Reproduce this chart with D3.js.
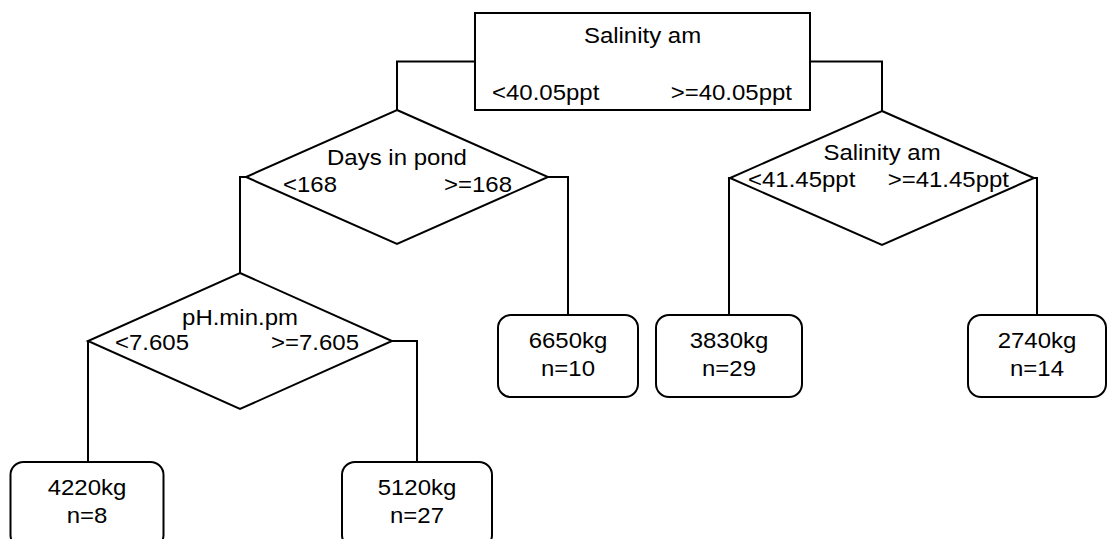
<!DOCTYPE html>
<html>
<head>
<meta charset="utf-8">
<script src="https://cdn.jsdelivr.net/npm/d3@7"></script>
<style>
  html, body { margin: 0; padding: 0; background: #fff; }
  svg text { font-family: "Liberation Sans", Arial, sans-serif; fill: #000; }
</style>
</head>
<body>
<svg id="chart" width="1107" height="539"></svg>
<script>
// ---- data ----
const splitVars   = ["Salinity am", "Days in pond", "Salinity am", "pH.min.pm"];
const splitLeft   = ["<40.05ppt", "<168", "<41.45ppt", "<7.605"];
const splitRight  = [">=40.05ppt", ">=168", ">=41.45ppt", ">=7.605"];
const leafYield   = [4220, 5120, 6650, 3830, 2740];
const leafN       = [8, 27, 10, 29, 14];
const leafUnit    = "kg";

// tree structure (split index -> children: {s: split} or {l: leaf})
const treeSpec = {s: 0, children: [
  {s: 1, children: [
    {s: 3, children: [{l: 0}, {l: 1}]},
    {l: 2}
  ]},
  {s: 2, children: [{l: 3}, {l: 4}]}
]};

// ---- layout (pixels) ----
const FS = 22;
const SX = 1.09; // horizontal text stretch seen in the reference
const splitLayout = [
  {shape: "box", cx: 642.5, cy: 61.5, hw: 167.5, hh: 48.5, labelDy: -19, branchDy: 38, lPad: 17, rPad: 18},
  {shape: "diamond", cx: 397, cy: 177, hw: 151, hh: 67, labelDy: -12, branchDy: 15, lPad: 37, rPad: 36},
  {shape: "diamond", cx: 882, cy: 178, hw: 152, hh: 67, labelDy: -18, branchDy: 9, lPad: 18, rPad: 25},
  {shape: "diamond", cx: 240, cy: 341, hw: 152, hh: 68, labelDy: -16, branchDy: 9, lPad: 27, rPad: 33}
];
const leafLayout = [
  {cx: 87,   top: 462, w: 153, h: 86},
  {cx: 417,  top: 462, w: 150, h: 86},
  {cx: 568,  top: 315, w: 140, h: 82},
  {cx: 729,  top: 315, w: 146, h: 82},
  {cx: 1037, top: 315, w: 138, h: 82}
];
const dropX = {
  "0-0": 397, "0-1": 882,
  "1-0": 240, "1-1": 568,
  "2-0": 729, "2-1": 1037,
  "3-0": 88,  "3-1": 417
};

const svg = d3.select("#chart");
const root = d3.hierarchy(treeSpec);

function topOf(node) {
  const d = node.data;
  if (d.s !== undefined) {
    const L = splitLayout[d.s];
    return L.cy - L.hh;
  }
  return leafLayout[d.l].top;
}

function addText(g, x, y, anchor, str) {
  g.append("text")
    .attr("transform", `translate(${x},${y}) scale(${SX},1)`)
    .attr("text-anchor", anchor).attr("font-size", FS).text(str);
}

// connectors
const gLinks = svg.append("g");
root.each(node => {
  if (!node.children) return;
  const L = splitLayout[node.data.s];
  node.children.forEach((child, i) => {
    const dx = dropX[node.data.s + "-" + i];
    const startX = i === 0 ? L.cx - L.hw : L.cx + L.hw;
    const p = d3.path();
    p.moveTo(startX, L.cy);
    p.lineTo(dx, L.cy);
    p.lineTo(dx, topOf(child));
    gLinks.append("path").attr("d", p.toString())
      .attr("fill", "none").attr("stroke", "#000").attr("stroke-width", 2);
  });
});

// split nodes
const splits = root.descendants().filter(n => n.data.s !== undefined);
const gSplit = svg.append("g").selectAll("g").data(splits).join("g");
gSplit.each(function(n) {
  const g = d3.select(this);
  const L = splitLayout[n.data.s];
  if (L.shape === "box") {
    g.append("rect").attr("x", L.cx - L.hw).attr("y", L.cy - L.hh)
      .attr("width", 2 * L.hw).attr("height", 2 * L.hh)
      .attr("fill", "#fff").attr("stroke", "#000").attr("stroke-width", 2);
  } else {
    const pts = [[L.cx, L.cy - L.hh], [L.cx + L.hw, L.cy], [L.cx, L.cy + L.hh], [L.cx - L.hw, L.cy]];
    g.append("path").attr("d", d3.line()(pts) + "Z")
      .attr("fill", "#fff").attr("stroke", "#000").attr("stroke-width", 2);
  }
  addText(g, L.cx, L.cy + L.labelDy, "middle", splitVars[n.data.s]);
  addText(g, L.cx - L.hw + L.lPad, L.cy + L.branchDy, "start", splitLeft[n.data.s]);
  addText(g, L.cx + L.hw - L.rPad, L.cy + L.branchDy, "end", splitRight[n.data.s]);
});

// leaves
const leaves = root.leaves();
const gLeaf = svg.append("g").selectAll("g").data(leaves).join("g");
gLeaf.each(function(n) {
  const g = d3.select(this);
  const L = leafLayout[n.data.l];
  g.append("rect").attr("x", L.cx - L.w / 2).attr("y", L.top)
    .attr("width", L.w).attr("height", L.h).attr("rx", 13).attr("ry", 13)
    .attr("fill", "#fff").attr("stroke", "#000").attr("stroke-width", 2);
  addText(g, L.cx, L.top + 33, "middle", leafYield[n.data.l] + leafUnit);
  addText(g, L.cx, L.top + 61, "middle", "n=" + leafN[n.data.l]);
});
</script>
</body>
</html>
